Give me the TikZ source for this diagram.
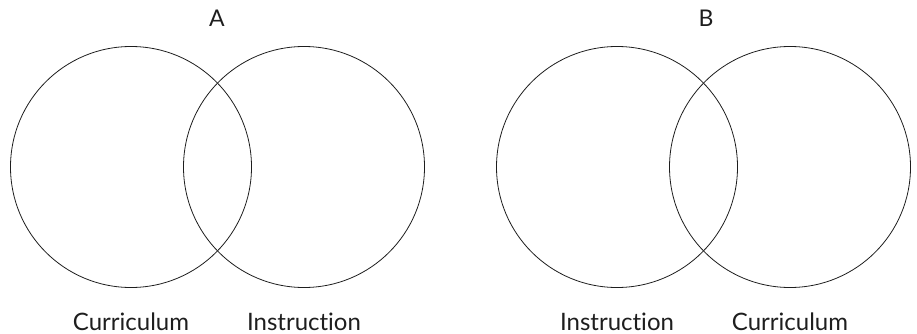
\documentclass[tikz,border=0pt]{standalone}
\usepackage{fontspec}
\setmainfont{Lato}[Ligatures={NoCommon,NoRare,NoContextual}]
\usetikzlibrary{positioning}
\definecolor{ink}{HTML}{1E1E1E}
\tikzset{vennset/.style={circle,draw=ink,line width=.8pt,minimum size=241pt,inner sep=0pt},
  setname/.style={font=\fontsize{24}{26}\selectfont,text=ink,anchor=base,inner sep=0pt},
  panelname/.style={font=\fontsize{23}{25}\selectfont,text=ink,inner sep=0pt}}
\begin{document}
\begin{tikzpicture}[x=1pt,y=-1pt]
\useasboundingbox (0,0) rectangle (917,334);
% panel A
\node[vennset] (curA) at (131,167) {};
\node[vennset] (insA) at (304,167) {};
\node[panelname] (A) at (217,18) {A};
\node[setname] (curAname) at (131,330) {Curriculum};
\node[setname] (insAname) at (304,330) {Instruction};
% panel B
\node[vennset] (insB) at (617,167) {};
\node[vennset] (curB) at (790,167) {};
\node[panelname] (B) at (706,18) {B};
\node[setname] (insBname) at (617,330) {Instruction};
\node[setname] (curBname) at (790,330) {Curriculum};
\end{tikzpicture}
\end{document}
